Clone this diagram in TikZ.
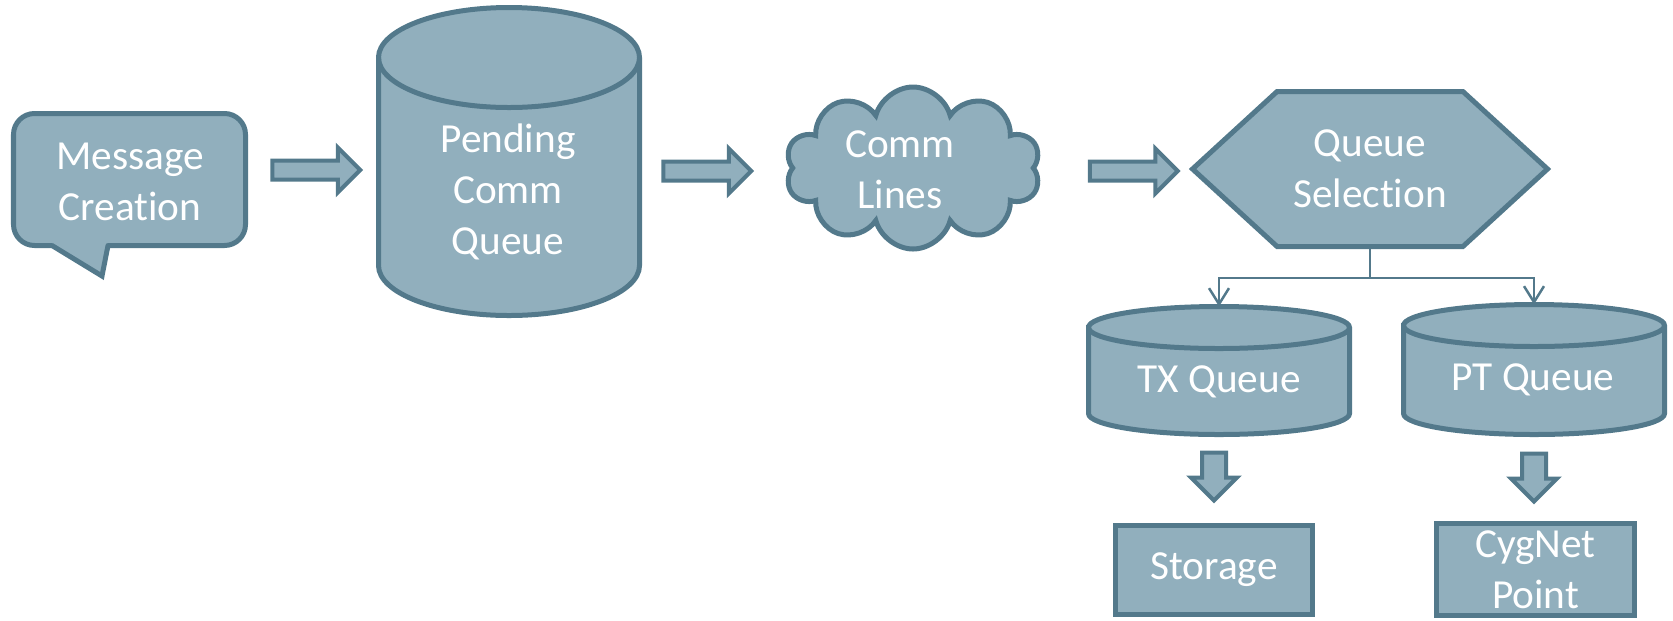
\documentclass[tikz,border=0pt]{standalone}
\usepackage{fontspec}
\setmainfont{Carlito}[Ligatures=NoCommon]
\usepackage{tikz}
\usetikzlibrary{shapes.geometric, shapes.symbols, shapes.arrows, positioning, arrows.meta, calc}

\definecolor{boxfill}{RGB}{145,175,189}
\definecolor{boxline}{RGB}{83,121,139}

\tikzset{
  shapebase/.style={draw=boxline, fill=boxfill, line width=0.1cm, inner sep=0pt},
  shapetext/.style={text=white, font=\fontsize{23.5}{29}\selectfont, align=center},
  dbframe/.style={inner sep=0pt, outer sep=0pt},
  blockarrow/.style={draw=boxline, fill=boxfill, line width=0.08cm, single arrow,
    single arrow head extend=0.26cm, inner xsep=0pt, inner ysep=0.15cm, minimum height=1.76cm},
  downarrow/.style={blockarrow, rotate=-90, inner ysep=0.2cm, single arrow head extend=0.22cm, minimum height=0.96cm},
  conn/.style={draw=boxline, line width=0.05cm, -{Straight Barb[length=0.32cm, width=0.4cm]}}
}

% cylinder outline around a plain node: #1 node, #2 x radius, #3 y radius
\newcommand{\qcyl}[3]{%
  \filldraw[shapebase] ($(#1.north west)+(0,-#3)$) -- ($(#1.south west)+(0,#3)$)
    arc[start angle=180, end angle=360, x radius=#2, y radius=#3]
    -- ($(#1.north east)+(0,-#3)$)
    arc[start angle=0, end angle=180, x radius=#2, y radius=#3] -- cycle;
  \draw[boxline, line width=0.1cm] ($(#1.north west)+(0,-#3)$)
    arc[start angle=180, end angle=360, x radius=#2, y radius=#3];
}

\begin{document}
\begin{tikzpicture}
    \useasboundingbox (0,0) rectangle (33.46,-12.4);

    % 1. Speech bubble on the left
    \node[shapebase, rounded corners=0.42cm, minimum width=4.64cm, minimum height=2.64cm] (msg) at (2.59,-3.59) {};
    % Tail of the bubble: fill hides the bottom edge, then the two slanted sides
    \coordinate (tailL) at ($(msg.south west)+(0.82,0.05)$);
    \coordinate (tailR) at ($(msg.south west)+(1.94,0.05)$);
    \coordinate (tailtip) at (2.04,-5.52);
    \fill[boxfill] (tailL) -- (tailtip) -- (tailR) -- ++(0,0.07) -- ($(tailL)+(0,0.07)$) -- cycle;
    \draw[boxline, line width=0.1cm, line cap=round, line join=miter] (tailL) -- (tailtip) -- (tailR);
    \node[shapetext] (msgtext) at (2.6,-3.64) {Message\\Creation};

    % 2. Pending queue cylinder
    \node[dbframe, minimum width=5.22cm, minimum height=6.16cm] (pend) at (10.18,-3.23) {};
    \qcyl{pend}{2.61}{1.0}
    \node[shapetext] (pendtext) at (10.16,-3.83) {Pending\\Comm\\Queue};

    % 3. Cloud for the lines
    \node[shapebase, cloud, cloud puffs=10, aspect=1.6, minimum width=5.1cm, minimum height=3.24cm] (lines) at (18.26,-3.36) {};
    \node[shapetext] (linestext) at (18.0,-3.4) {Comm\\Lines};

    % 4. Hexagon for the selection step
    \node[shapebase, shapetext, signal, signal to=west and east, signal pointer angle=85,
      minimum width=7.1cm, minimum height=3.1cm] (sel) at (27.4,-3.38) {Queue\\Selection};

    % 5. Block arrows between the stages
    \node[blockarrow] (arrA) at (6.23,-3.4) {};
    \node[blockarrow] (arrB) at (14.05,-3.42) {};
    \node[blockarrow] (arrC) at (22.58,-3.42) {};

    % 6. The two target queues
    \node[dbframe, minimum width=5.22cm, minimum height=2.56cm] (txq) at (24.38,-7.41) {};
    \qcyl{txq}{2.61}{0.42}
    \node[shapetext] (txtext) at (24.38,-7.64) {TX Queue};
    \node[dbframe, minimum width=5.22cm, minimum height=2.6cm] (ptq) at (30.68,-7.39) {};
    \qcyl{ptq}{2.61}{0.42}
    \node[shapetext] (pttext) at (30.66,-7.6) {PT Queue};

    % Split connector from the hexagon
    \coordinate (split) at ($(sel.south)+(0,-0.58)$);
    \draw[boxline, line width=0.05cm] (sel.south) -- (split);
    \draw[conn] (split) -| (txq.north);
    \draw[conn] (split) -| (ptq.north);

    % 7. Down arrows and the end boxes
    \node[downarrow] (arrD) at (24.28,-9.41) {};
    \node[downarrow] (arrE) at (30.68,-9.43) {};
    \node[shapebase, shapetext, minimum width=3.94cm, minimum height=1.78cm] (store) at (24.28,-11.4) {Storage};
    \node[shapebase, shapetext, minimum width=3.96cm, minimum height=1.84cm] (cyg) at (30.71,-11.39) {CygNet\\Point};

\end{tikzpicture}
\end{document}
